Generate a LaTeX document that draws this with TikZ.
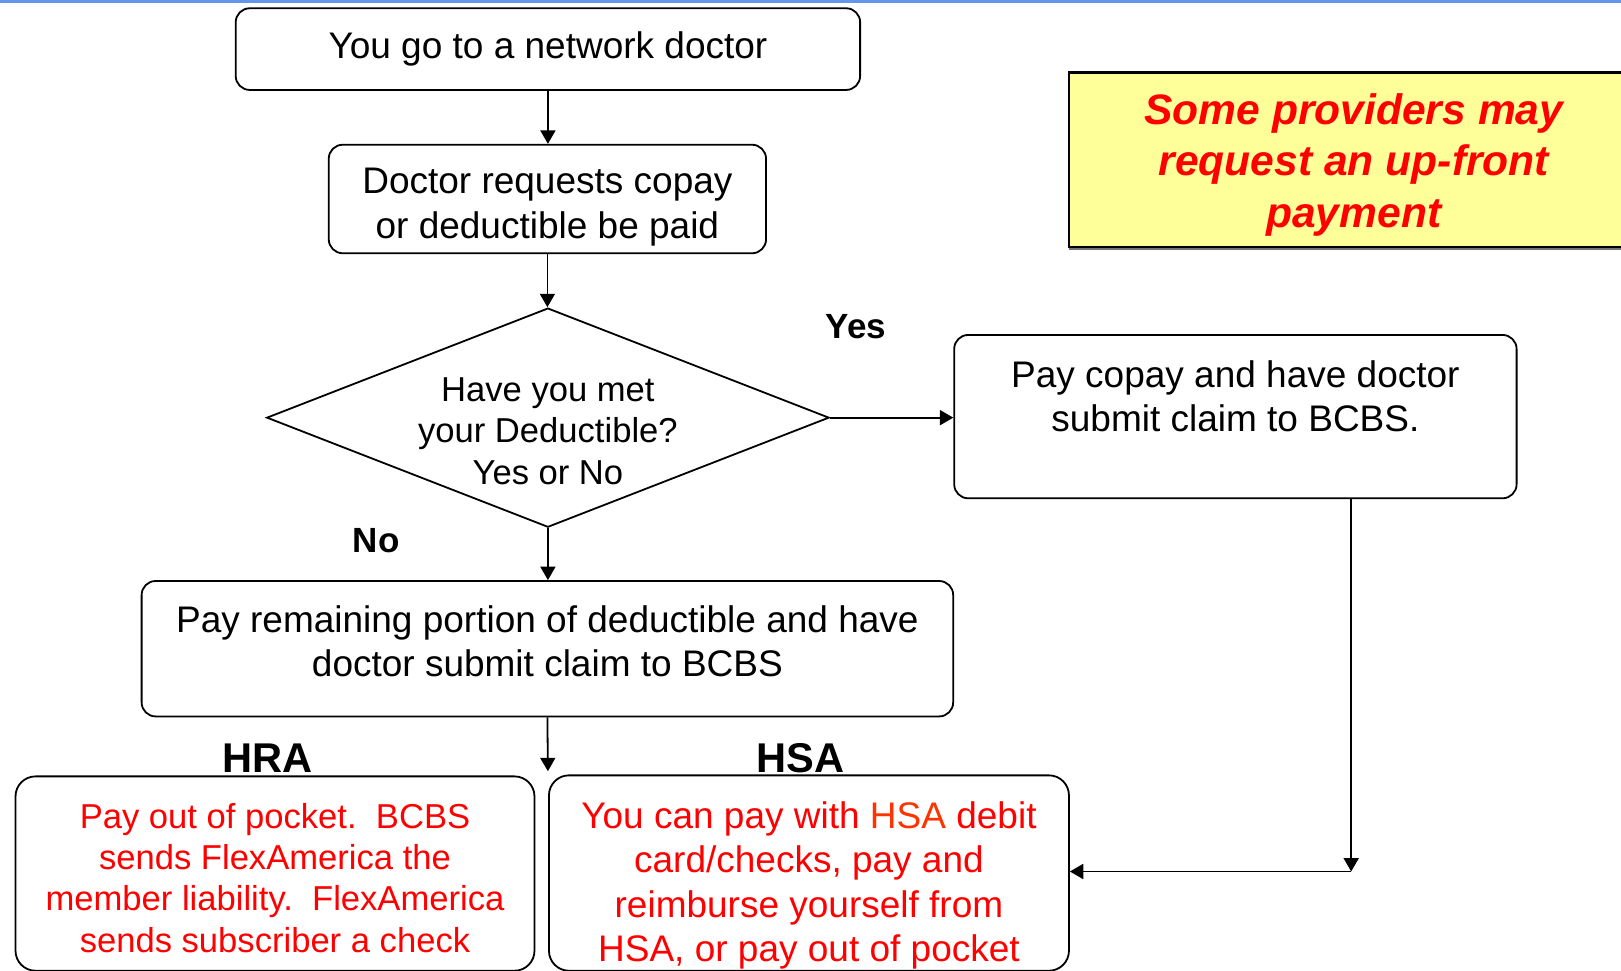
\documentclass[tikz,border=0pt]{standalone}
\usepackage{fontspec}
\setmainfont{Liberation Sans}
\usetikzlibrary{arrows.meta,shapes.geometric,shadows}
\definecolor{topline}{HTML}{6495ED}
\definecolor{notefill}{HTML}{FFFF99}
\definecolor{hsaword}{HTML}{FF3300}
\newcommand{\pxu}{0.5169pt}
\newcommand{\boxfont}{\fontsize{18.5pt}{22.2pt}\selectfont}
\newcommand{\qfont}{\fontsize{17.3pt}{20.7pt}\selectfont}
\newcommand{\tagfont}{\fontsize{17.5pt}{21pt}\selectfont\bfseries}
\newcommand{\planfont}{\fontsize{20.8pt}{25pt}\selectfont\bfseries}
\newcommand{\notefont}{\fontsize{21.3pt}{25.8pt}\selectfont\bfseries\itshape}

\begin{document}
\begin{tikzpicture}[x=\pxu,y=-\pxu,line width=0.9pt,>={Triangle[length=6.7pt,width=7.5pt]},
  boxsize/.style 2 args={minimum width=#1*\pxu,minimum height=#2*\pxu},
  stepbox/.style={draw,rounded corners=7pt,align=center,inner sep=0pt,font=\boxfont},
  planbox/.style={stepbox,rounded corners=10pt,text=red},
  decision/.style={draw,diamond,inner sep=0pt},
  notebox/.style={draw,fill=notefill,line width=1.2pt,text=red,align=center,inner sep=0pt,font=\notefont,
    drop shadow={shadow xshift=0pt,shadow yshift=-1.3pt,fill=black!55,opacity=1}},
  tag/.style={font=\tagfont},
  plan/.style={font=\planfont}]
\useasboundingbox (0,0) rectangle (1568,939);
\draw[topline,line width=1.5pt] (0,1) -- (1568,1);

\node[stepbox,boxsize={604}{79}] (doc) at (530,47.5) {You go to a network doctor};
\node[stepbox,boxsize={423}{105},text height=39.2pt,text depth=0pt] (req) at (529.5,192.5) {Doctor requests copay\\or deductible be paid};
\node[decision,boxsize={544}{212}] (dec) at (530,404) {};
\node[font=\qfont,align=center] (q) at (530,417) {Have you met\\your Deductible?\\Yes or No};
\node[stepbox,boxsize={544}{158},text depth=20.7pt] (payco) at (1195,403) {Pay copay and have doctor\\submit claim to BCBS.};
\node[stepbox,boxsize={785}{131},text depth=7.4pt] (payrem) at (529.5,627.5) {Pay remaining portion of deductible and have\\doctor submit claim to BCBS};
\node[planbox,boxsize={502}{188},font=\qfont,text height=78.8pt,text depth=0pt] (hra) at (266,845) {Pay out of pocket.~~BCBS\\sends FlexAmerica the\\member liability.~~FlexAmerica\\sends subscriber a check};
\node[planbox,boxsize={503}{189},text height=88.6pt,text depth=0pt] (hsa) at (782.5,844.5) {You can pay with \textcolor{hsaword}{HSA} debit\\card/checks, pay and\\reimburse yourself from\\HSA, or pay out of pocket};
\node[notebox,boxsize={551}{169},text height=67.8pt,text depth=0pt] (note) at (1309.5,154.5) {Some providers may\\request an up-front\\payment};

\node[tag] (yes) at (828,316) {Yes};
\node[tag] (no) at (364,523) {No};
\node[plan] (hralabel) at (259,733) {HRA};
\node[plan] (hsalabel) at (774,733) {HSA};

\coordinate (split) at (530,746);
\coordinate (turn) at (1307,843);
\draw[->] (doc.south) -- (doc.south |- req.north);
\draw[->] (req.south) -- (req.south |- dec.north);
\draw[->] (dec.east) -- (dec.east -| payco.west);
\draw[->] (dec.south) -- (dec.south |- payrem.north);
\draw[->] (payrem.south) -- (split);
\draw[->] (payco.south -| turn) -- (turn);
\draw[->] (turn) -- (turn -| hsa.east);
\end{tikzpicture}
\end{document}
